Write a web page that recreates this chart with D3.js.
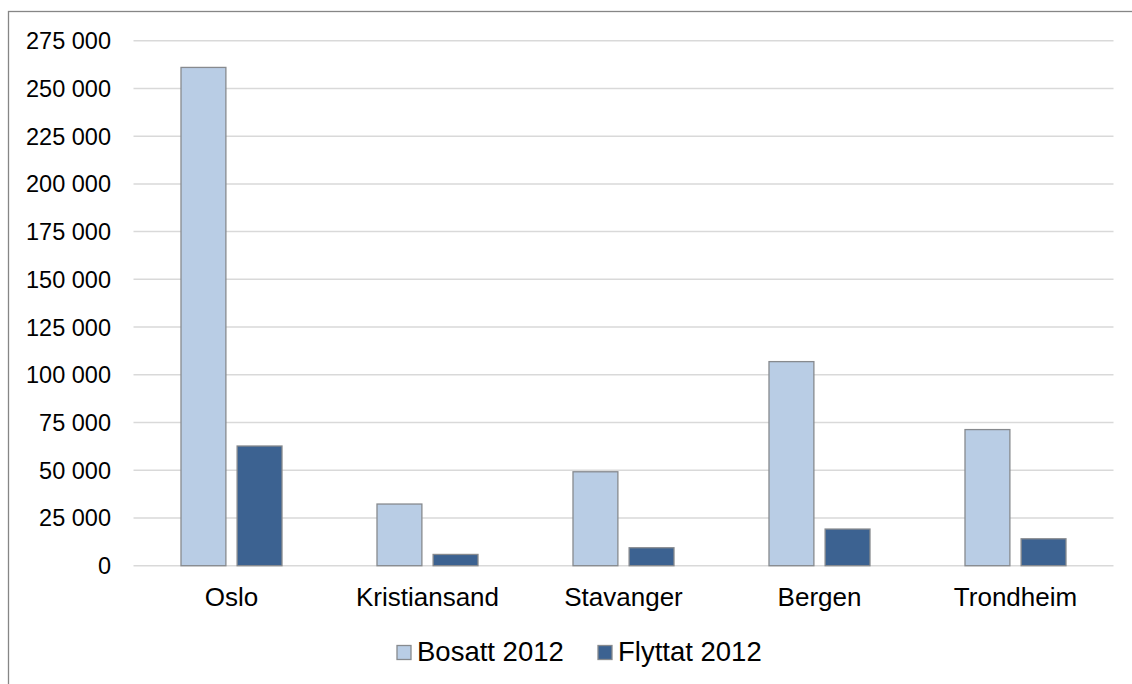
<!DOCTYPE html>
<html>
<head>
<meta charset="utf-8">
<script src="https://cdn.jsdelivr.net/npm/d3@7"></script>
<style>
  html, body { margin: 0; padding: 0; background: #fff; }
  svg { display: block; font-family: "Liberation Sans", Arial, sans-serif; }
  .grid line { stroke: #d9d9d9; stroke-width: 1.5; }
  .tick-label { font-size: 23.5px; fill: #000; }
  .cat-label { font-size: 26px; fill: #000; }
  .legend text { font-size: 27.5px; fill: #000; }
</style>
</head>
<body>
<svg id="chart" width="1132" height="684"></svg>
<script>
'use strict';

// values
var cities = ['Oslo', 'Kristiansand', 'Stavanger', 'Bergen', 'Trondheim'];
var seriesNames = ['Bosatt 2012', 'Flyttat 2012'];
var bosatt = [261000, 32300, 49200, 106900, 71300];
var flyttat = [62700, 5900, 9400, 19200, 14100];
var yTicks = [0, 25000, 50000, 75000, 100000, 125000, 150000, 175000, 200000, 225000, 250000, 275000];
var colors = ['#b9cde5', '#3c6291'];

var svg = d3.select('#chart');

// outer frame (right and bottom edges fall outside the picture)
svg.append('rect')
  .attr('x', 8.5).attr('y', 11.5)
  .attr('width', 1200).attr('height', 800)
  .attr('fill', 'none')
  .attr('stroke', '#868686')
  .attr('stroke-width', 1.3);

var plotLeft = 133.5, plotRight = 1113.5, plotTop = 40.7, plotBottom = 565.7;

var x0 = d3.scaleBand().domain(cities).range([plotLeft, plotRight]).padding(0);
var bw = x0.bandwidth();
var x1 = d3.scaleBand().domain(seriesNames)
  .range([bw / 2 - 50.5, bw / 2 + 50.5])
  .paddingInner(0.2).paddingOuter(0);
var y = d3.scaleLinear().domain([0, 275000]).range([plotBottom, plotTop]);

var fmt = function (d) { return d3.format(',')(d).replace(/,/g, ' '); };

// gridlines
var grid = svg.append('g').classed('grid', true);
grid.selectAll('line').data(yTicks).enter().append('line')
  .attr('x1', plotLeft).attr('x2', plotRight)
  .attr('y1', function (d) { return y(d); })
  .attr('y2', function (d) { return y(d); });

// y tick labels
svg.append('g').selectAll('text').data(yTicks).enter().append('text')
  .classed('tick-label', true)
  .attr('x', 111)
  .attr('y', function (d) { return y(d); })
  .attr('dy', '0.36em')
  .attr('text-anchor', 'end')
  .text(fmt);

// bars
var rows = cities.map(function (c, i) {
  return { city: c, values: [bosatt[i], flyttat[i]] };
});

var groups = svg.append('g').selectAll('g').data(rows).enter().append('g')
  .attr('transform', function (d) { return 'translate(' + x0(d.city) + ',0)'; });

groups.selectAll('rect').data(function (d) {
  return d.values.map(function (v, k) { return { key: seriesNames[k], value: v, k: k }; });
}).enter().append('rect')
  .attr('x', function (d) { return x1(d.key); })
  .attr('width', x1.bandwidth())
  .attr('y', function (d) { return y(d.value); })
  .attr('height', function (d) { return plotBottom - y(d.value); })
  .attr('fill', function (d) { return colors[d.k]; })
  .attr('stroke', '#878a8e')
  .attr('stroke-width', 1.3);

// category labels
svg.append('g').selectAll('text').data(cities).enter().append('text')
  .classed('cat-label', true)
  .attr('x', function (d) { return x0(d) + bw / 2; })
  .attr('y', 606)
  .attr('text-anchor', 'middle')
  .text(function (d) { return d; });

// legend
var legend = svg.append('g').classed('legend', true);
var legendX = [397, 598];
seriesNames.forEach(function (name, i) {
  legend.append('rect')
    .attr('x', legendX[i]).attr('y', 645.5)
    .attr('width', 14).attr('height', 14)
    .attr('fill', colors[i])
    .attr('stroke', '#878a8e')
    .attr('stroke-width', 1.3);
  legend.append('text')
    .attr('x', legendX[i] + 20)
    .attr('y', 661)
    .text(name);
});
</script>
</body>
</html>
